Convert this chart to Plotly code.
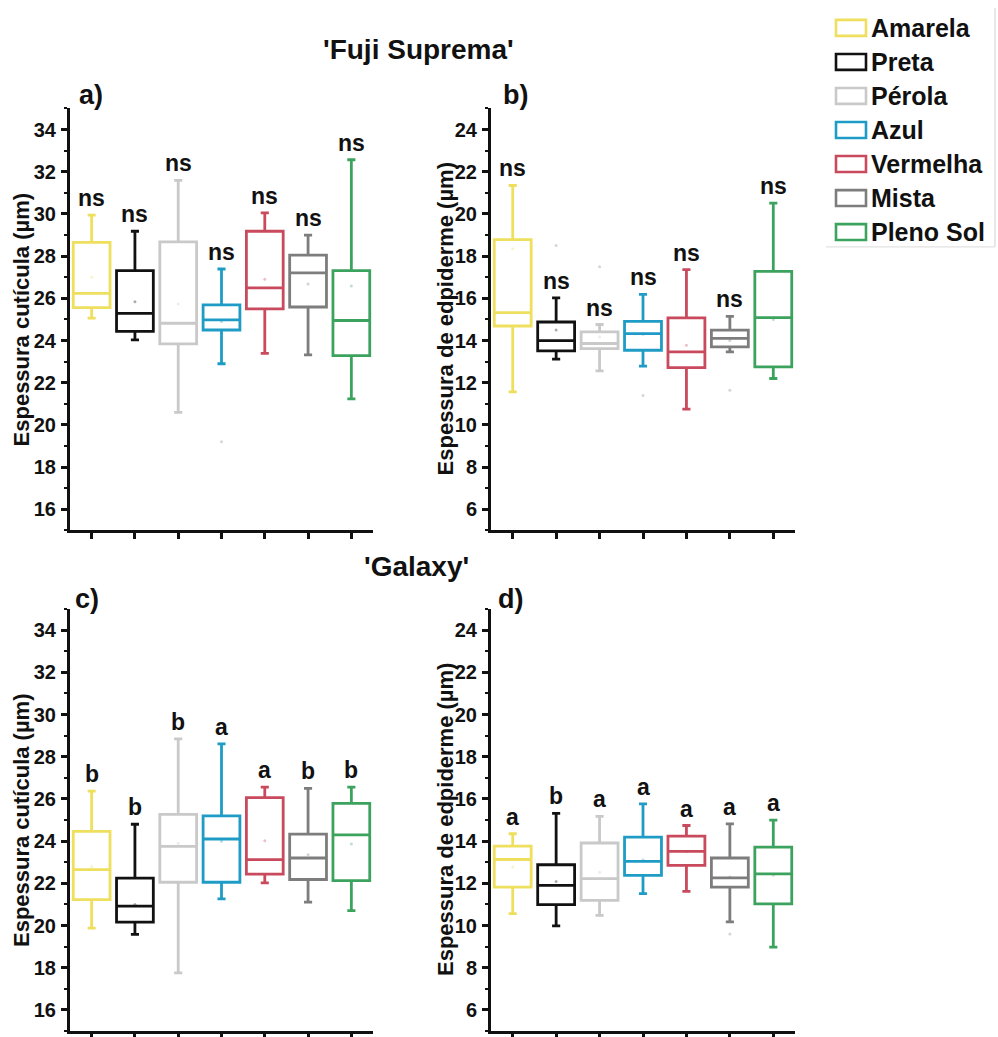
import plotly.graph_objects as go

W, H = 998, 1037

cats = ["Amarela", "Preta", "Pérola", "Azul", "Vermelha", "Mista", "Pleno Sol"]
colors = ["#EEDF5E", "#111111", "#C9C9C9", "#1F9CC6", "#C94A5C", "#7D7D7D", "#3CA35E"]

# Panel a) 'Fuji Suprema' - cuticle
a_low = [25.06, 24.03, 20.6, 22.9, 23.39, 23.32, 21.24]
a_q1 = [25.56, 24.43, 23.84, 24.5, 25.5, 25.59, 23.29]
a_med = [26.24, 25.29, 24.82, 24.98, 26.5, 27.21, 24.95]
a_q3 = [28.65, 27.31, 28.68, 25.69, 29.18, 28.05, 27.31]
a_high = [29.94, 29.18, 31.59, 27.39, 30.05, 29.0, 32.57]
a_mean = [27.0, 25.84, 25.73, 24.9, 26.9, 26.68, 26.58]
a_lab = ["ns", "ns", "ns", "ns", "ns", "ns", "ns"]
a_out_cat = ["Azul"]
a_out_val = [19.2]

# Panel b) 'Fuji Suprema' - epidermis
b_low = [11.57, 13.12, 12.56, 12.79, 10.75, 13.46, 12.2]
b_q1 = [14.69, 13.51, 13.62, 13.54, 12.72, 13.7, 12.75]
b_med = [15.32, 14.0, 13.86, 14.33, 13.46, 14.1, 15.09]
b_q3 = [18.78, 14.88, 14.41, 14.91, 15.07, 14.49, 17.28]
b_high = [21.35, 16.02, 14.76, 16.19, 17.36, 15.15, 20.51]
b_mean = [18.35, 14.5, 14.17, 14.3, 13.78, 14.0, 15.0]
b_lab = ["ns", "ns", "ns", "ns", "ns", "ns", "ns"]
b_out_cat = ["Preta", "Pérola", "Azul", "Mista"]
b_out_val = [18.5, 17.5, 11.4, 11.65]

# Panel c) 'Galaxy' - cuticle
c_low = [19.88, 19.58, 17.76, 21.26, 22.02, 21.11, 20.71]
c_q1 = [21.23, 20.16, 22.05, 22.05, 22.44, 22.18, 22.13]
c_med = [22.65, 20.92, 23.75, 24.1, 23.12, 23.2, 24.3]
c_q3 = [24.46, 22.25, 25.27, 25.2, 26.06, 24.33, 25.79]
c_high = [26.37, 24.8, 28.85, 28.61, 26.56, 26.5, 26.56]
c_mean = [22.8, 21.0, 23.9, 24.0, 24.02, 23.35, 23.86]
c_lab = ["b", "b", "b", "a", "a", "b", "b"]
c_out_cat = []
c_out_val = []

# Panel d) 'Galaxy' - epidermis
d_low = [10.56, 9.98, 10.48, 11.51, 11.62, 10.17, 8.98]
d_q1 = [11.82, 10.99, 11.19, 12.38, 12.85, 11.82, 11.03]
d_med = [13.13, 11.9, 12.22, 13.04, 13.51, 12.26, 12.45]
d_q3 = [13.76, 12.88, 13.91, 14.19, 14.24, 13.2, 13.72]
d_high = [14.35, 15.32, 15.17, 15.77, 14.74, 14.82, 15.0]
d_mean = [12.77, 12.09, 12.53, 13.1, 13.5, 12.3, 12.4]
d_lab = ["a", "b", "a", "a", "a", "a", "a"]
d_out_cat = ["Mista"]
d_out_val = [9.6]

ytitle_cut = "Espessura cutícula (µm)"
ytitle_epi = "Espessura de edpiderme (µm)"

FONT = "Arial, 'Liberation Sans', sans-serif"


def px(x):
    return x / W


def py(y):
    return 1 - y / H


fig = go.Figure()
annotations = []
shapes = []

panels = [
    ("", a_low, a_q1, a_med, a_q3, a_high, a_mean, a_lab, a_out_cat, a_out_val),
    ("2", b_low, b_q1, b_med, b_q3, b_high, b_mean, b_lab, b_out_cat, b_out_val),
    ("3", c_low, c_q1, c_med, c_q3, c_high, c_mean, c_lab, c_out_cat, c_out_val),
    ("4", d_low, d_q1, d_med, d_q3, d_high, d_mean, d_lab, d_out_cat, d_out_val),
]

for suf, low, q1, med, q3, high, mean, lab, ocat, oval in panels:
    xa, ya = "x" + suf, "y" + suf
    for i, cat in enumerate(cats):
        fig.add_trace(go.Box(
            x=[cat], q1=[q1[i]], median=[med[i]], q3=[q3[i]],
            lowerfence=[low[i]], upperfence=[high[i]],
            name=cat, xaxis=xa, yaxis=ya,
            line=dict(color=colors[i], width=2.8),
            fillcolor="rgba(255,255,255,0)",
            width=0.85, whiskerwidth=0.22,
            boxpoints=False, showlegend=False, hoverinfo="skip",
        ))
        annotations.append(dict(
            x=cat, y=high[i], xref=xa, yref=ya, text=lab[i],
            showarrow=False, yanchor="bottom", yshift=2,
            font=dict(family=FONT, size=23, color="#111111", weight="bold"),
        ))
    fig.add_trace(go.Scatter(
        x=cats, y=mean, mode="markers", xaxis=xa, yaxis=ya,
        marker=dict(size=3, color=[c for c in colors], opacity=0.35),
        showlegend=False, hoverinfo="skip",
    ))
    if ocat:
        fig.add_trace(go.Scatter(
            x=ocat, y=oval, mode="markers", xaxis=xa, yaxis=ya,
            marker=dict(size=3, color="#bbbbbb", opacity=0.6),
            showlegend=False, hoverinfo="skip",
        ))

tickfont = dict(family=FONT, size=20, color="#111111", weight="bold")


def xaxis(domain, anchor):
    return dict(
        domain=domain, anchor=anchor, type="category",
        categoryorder="array", categoryarray=cats, range=[-0.5, 6.5],
        showticklabels=False, ticks="outside", ticklen=6, tickwidth=2.5,
        tickcolor="#111111", showline=True, linecolor="#111111", linewidth=3,
        showgrid=False, zeroline=False, fixedrange=True,
    )


def yaxis(domain, anchor, rng):
    return dict(
        domain=domain, anchor=anchor, range=rng, dtick=2, tick0=0,
        ticks="outside", ticklen=6, tickwidth=2.5, tickcolor="#111111",
        showline=True, linecolor="#111111", linewidth=3,
        showgrid=False, zeroline=False, tickfont=tickfont, ticklabelstandoff=1,
        minor=dict(dtick=1, ticks="outside", ticklen=3, tickwidth=2, tickcolor="#111111"),
    )


xL = [px(70), px(373)]
xR = [px(491), px(795)]
yT = [py(533), py(109)]
yB = [py(1036), py(612)]

layout = dict(
    width=W, height=H, margin=dict(l=0, r=0, t=0, b=0),
    paper_bgcolor="white", plot_bgcolor="white", showlegend=False,
    xaxis=xaxis(xL, "y"), yaxis=yaxis(yT, "x", [15, 35]),
    xaxis2=xaxis(xR, "y2"), yaxis2=yaxis(yT, "x2", [5, 25]),
    xaxis3=xaxis(xL, "y3"), yaxis3=yaxis(yB, "x3", [15, 35]),
    xaxis4=xaxis(xR, "y4"), yaxis4=yaxis(yB, "x4", [5, 25]),
)

# y-axis titles
for xc, yc, t in [(21, 321, ytitle_cut), (445, 321, ytitle_epi),
                  (21, 824, ytitle_cut), (445, 824, ytitle_epi)]:
    annotations.append(dict(
        x=px(xc), y=py(yc), xref="paper", yref="paper", text=t, textangle=-90,
        showarrow=False, xanchor="center", yanchor="middle",
        font=dict(family=FONT, size=22, color="#111111", weight="bold"),
    ))

# Panel labels
for xc, yc, t in [(77, 95, "a)"), (501, 95, "b)"), (73, 602, "c)"), (496, 602, "d)")]:
    annotations.append(dict(
        x=px(xc), y=py(yc), xref="paper", yref="paper", text=t,
        showarrow=False, xanchor="left", yanchor="middle",
        font=dict(family=FONT, size=27, color="#111111", weight="bold"),
    ))

# Group titles
for xc, yc, t in [(418, 50, "'Fuji Suprema'"), (416, 569, "'Galaxy'")]:
    annotations.append(dict(
        x=px(xc), y=py(yc), xref="paper", yref="paper", text=t,
        showarrow=False, xanchor="center", yanchor="middle",
        font=dict(family=FONT, size=28, color="#111111", weight="bold"),
    ))

# Custom legend
leg_y0, leg_dy = 28, 34.2
for i, cat in enumerate(cats):
    yc = leg_y0 + i * leg_dy
    shapes.append(dict(
        type="rect", xref="paper", yref="paper",
        x0=px(836), x1=px(866), y0=py(yc + 8), y1=py(yc - 8),
        line=dict(color=colors[i], width=2.6), fillcolor="white",
    ))
    annotations.append(dict(
        x=px(869), y=py(yc), xref="paper", yref="paper", text=cat,
        showarrow=False, xanchor="left", yanchor="middle",
        font=dict(family=FONT, size=25, color="#111111", weight="bold"),
    ))
shapes.append(dict(type="line", xref="paper", yref="paper",
                   x0=px(995), x1=px(995), y0=py(8), y1=py(248),
                   line=dict(color="#d8d8d8", width=1.2)))
shapes.append(dict(type="line", xref="paper", yref="paper",
                   x0=px(826), x1=px(995), y0=py(248), y1=py(248),
                   line=dict(color="#e2e2e2", width=1.2)))

layout["annotations"] = annotations
layout["shapes"] = shapes
fig.update_layout(**layout)

fig.write_html("out.html")
